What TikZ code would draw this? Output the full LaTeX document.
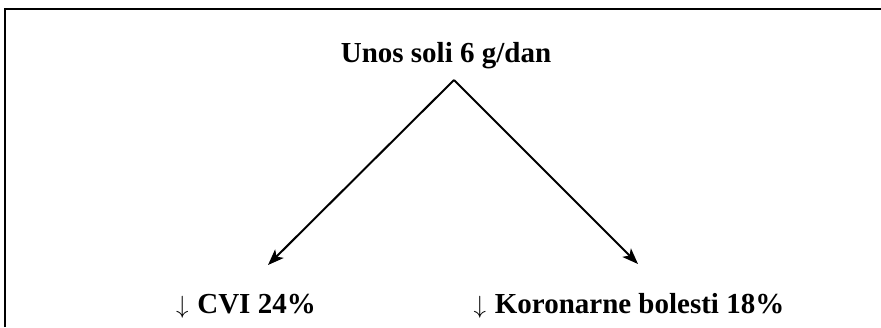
\documentclass[tikz,border=0pt]{standalone}
\usepackage{fontspec}
\setmainfont{Liberation Serif}
\usepackage{tikz}
\usetikzlibrary{arrows.meta,positioning,calc}
\definecolor{tinta}{HTML}{000000}
\tikzset{
  natpis/.style={font=\fontsize{29}{34}\selectfont\bfseries, text=tinta, inner sep=0pt, anchor=base},
  strelica/.style={-{Stealth[length=16pt,width=12pt,inset=4pt]}, draw=tinta, line width=2pt},
  okvir/.style={draw=tinta, line width=2pt},
}
\newcommand{\dolje}{$\downarrow$\hspace{0.3em}}

\begin{document}
\begin{tikzpicture}[x=1pt, y=-1pt]
    \useasboundingbox (0,0) rectangle (881,327);
    \draw[okvir] (5,327) -- (5,9) -- (881,9);
    \node[natpis] (unos) at (446,62) {Unos soli 6 g/dan};
    \node[natpis] (cvi) at (246,313) {\dolje CVI 24\%};
    \node[natpis] (koronarne) at (629,313) {\dolje Koronarne bolesti 18\%};
    \coordinate (vrh) at (454,80);
    \coordinate (lijevo) at (268,265);
    \coordinate (desno) at (638,264);
    \draw[strelica] (vrh) -- (lijevo);
    \draw[strelica] (vrh) -- (desno);
  \end{tikzpicture}
\end{document}
